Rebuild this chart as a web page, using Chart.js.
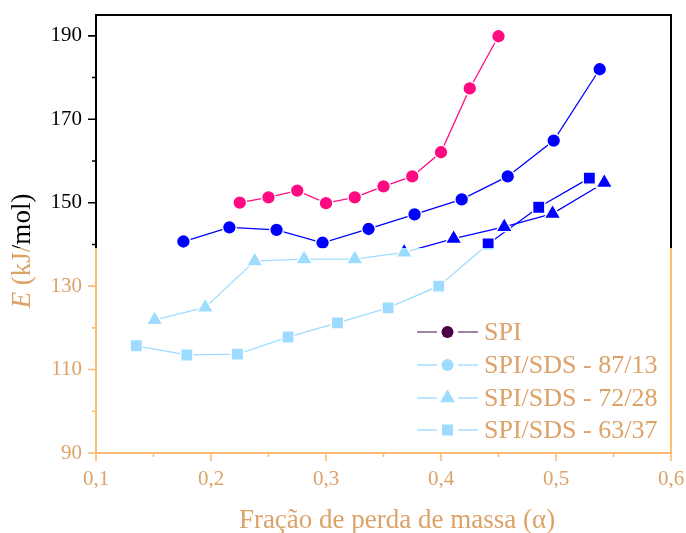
<!DOCTYPE html>
<html>
<head>
<meta charset="utf-8">
<script src="https://cdn.jsdelivr.net/npm/chart.js@4.4.0/dist/chart.umd.min.js"></script>
<style>
    html, body { margin: 0; padding: 0; background: #fff; }
    #wrap { width: 686px; height: 533px; position: relative; }
</style>
</head>
<body>
<div id="wrap"><canvas id="chart"></canvas></div>
<script>
// Séries (fração de perda de massa x energia de ativação)
const seriesNames = ['SPI', 'SPI/SDS - 87/13', 'SPI/SDS - 72/28', 'SPI/SDS - 63/37'];

const spiX = [0.225, 0.25, 0.275, 0.30, 0.325, 0.35, 0.375, 0.40, 0.425, 0.45];
const spiE = [150.0, 151.3, 152.9, 149.9, 151.3, 153.9, 156.3, 162.1, 177.4, 189.9];

const s87X = [0.176, 0.216, 0.257, 0.297, 0.337, 0.377, 0.418, 0.458, 0.498, 0.538];
const s87E = [140.7, 144.1, 143.5, 140.4, 143.7, 147.2, 150.8, 156.3, 164.9, 182.0];

const s72X = [0.151, 0.195, 0.238, 0.281, 0.325, 0.368, 0.411, 0.455, 0.497, 0.542];
const s72E = [121.9, 124.9, 136.0, 136.5, 136.5, 138.1, 141.4, 144.2, 147.4, 154.8];

const s63X = [0.135, 0.179, 0.223, 0.267, 0.310, 0.354, 0.398, 0.441, 0.485, 0.529];
const s63E = [115.7, 113.5, 113.7, 117.8, 121.2, 124.8, 130.0, 140.1, 148.9, 155.9];

// Eixos
const xMin = 0.1, xMax = 0.6;
const xTicks = [0.1, 0.15, 0.2, 0.25, 0.3, 0.35, 0.4, 0.45, 0.5, 0.55, 0.6];
const yMin = 90, yMax = 195;
const yTicks = [90, 100, 110, 120, 130, 140, 150, 160, 170, 180, 190];
const xTitle = 'Fração de perda de massa (α)';
const yTitleVar = 'E';
const yTitleUnit = ' (kJ/mol)';

// A imagem original muda de cor abaixo desta linha
const CUT_Y = 248;
const FONT = "'Liberation Serif', 'Times New Roman', serif";
const AX_ORANGE = '#ffbb72';
const TXT_ORANGE = '#dca268';

function split(chart, top, bottom) {
    const h = chart.height || 533;
    const g = chart.ctx.createLinearGradient(0, 0, 0, h);
    const s = CUT_Y / h;
    g.addColorStop(0, top);
    g.addColorStop(s, top);
    g.addColorStop(s, bottom);
    g.addColorStop(1, bottom);
    return g;
}

function toPoints(xs, ys) {
    return xs.map((x, i) => ({ x: x, y: ys[i] }));
}

function makeSet(i, xs, ys, style, radius, top, bottom) {
    return {
        label: seriesNames[i],
        data: toPoints(xs, ys),
        borderColor: c => split(c.chart, top, bottom),
        pointBackgroundColor: c => split(c.chart, top, bottom),
        pointBorderColor: '#ffffff',
        pointBorderWidth: 1.3,
        pointStyle: style,
        pointRadius: radius,
        borderWidth: 1.3,
        tension: 0,
        fill: false
    };
}

const LIGHT = '#9edcff';

const datasets = [
    makeSet(0, spiX, spiE, 'circle', 6.8, '#ff0a80', '#4b0048'),
    makeSet(1, s87X, s87E, 'circle', 6.8, '#0000ff', LIGHT),
    makeSet(2, s72X, s72E, 'triangle', 9.5, '#0000ff', LIGHT),
    makeSet(3, s63X, s63E, 'rect', 8.6, '#0000ff', LIGHT)
];

// legenda: cores da parte de baixo da figura
const legendLine = ['#86588a', '#a6e1ff', '#a6e1ff', '#a6e1ff'];
const legendFill = ['#4b0048', LIGHT, LIGHT, LIGHT];
const legendStyle = ['circle', 'circle', 'triangle', 'rect'];
const legendSize = [6, 6, 8.5, 7.8];

function isMajorX(v) {
    return Math.round(v * 100) % 10 === 0;
}

function twoTone(ctx, chart, topColor, bottomColor, draw) {
    ctx.save();
    ctx.beginPath();
    ctx.rect(0, 0, chart.width, CUT_Y);
    ctx.clip();
    draw(topColor);
    ctx.restore();
    ctx.save();
    ctx.beginPath();
    ctx.rect(0, CUT_Y, chart.width, chart.height - CUT_Y);
    ctx.clip();
    draw(bottomColor);
    ctx.restore();
}

function marker(ctx, style, x, y, r) {
    ctx.beginPath();
    if (style === 'circle') {
        ctx.arc(x, y, r, 0, Math.PI * 2);
    } else if (style === 'triangle') {
        ctx.moveTo(x, y - r);
        ctx.lineTo(x + r * 0.866, y + r / 2);
        ctx.lineTo(x - r * 0.866, y + r / 2);
        ctx.closePath();
    } else {
        const h = r * Math.SQRT1_2;
        ctx.rect(x - h, y - h, 2 * h, 2 * h);
    }
    ctx.fill();
}

const decor = {
    id: 'decor',
    afterDraw(chart) {
        const ctx = chart.ctx;
        const a = chart.chartArea;
        const xs = chart.scales.x;
        const ys = chart.scales.y;

        // moldura e marcas dos eixos
        twoTone(ctx, chart, '#000000', AX_ORANGE, color => {
            ctx.strokeStyle = color;
            ctx.lineWidth = 2;
            ctx.strokeRect(a.left, a.top, a.right - a.left, a.bottom - a.top);
            ctx.lineWidth = 1.6;
            ctx.beginPath();
            ys.ticks.forEach(t => {
                const len = t.value % 20 === 10 ? 8 : 4;
                const py = ys.getPixelForValue(t.value);
                ctx.moveTo(a.left, py);
                ctx.lineTo(a.left - len, py);
            });
            xs.ticks.forEach(t => {
                const len = isMajorX(t.value) ? 8 : 4;
                const px = xs.getPixelForValue(t.value);
                ctx.moveTo(px, a.bottom);
                ctx.lineTo(px, a.bottom + len);
            });
            ctx.stroke();
        });

        // título do eixo y
        twoTone(ctx, chart, '#000000', TXT_ORANGE, color => {
            ctx.save();
            ctx.translate(23, 251);
            ctx.rotate(-Math.PI / 2);
            ctx.fillStyle = color;
            ctx.textBaseline = 'middle';
            ctx.font = 'italic 27px ' + FONT;
            const wE = ctx.measureText(yTitleVar).width;
            ctx.font = '27px ' + FONT;
            const wU = ctx.measureText(yTitleUnit).width;
            const start = -(wE + wU) / 2;
            ctx.textAlign = 'left';
            ctx.font = 'italic 27px ' + FONT;
            ctx.fillText(yTitleVar, start, 0);
            ctx.font = '27px ' + FONT;
            ctx.fillText(yTitleUnit, start + wE, 0);
            ctx.restore();
        });

        // título do eixo x
        ctx.save();
        ctx.fillStyle = TXT_ORANGE;
        ctx.font = '27px ' + FONT;
        ctx.textAlign = 'center';
        ctx.textBaseline = 'alphabetic';
        ctx.fillText(xTitle, 397, 528);
        ctx.restore();

        // legenda
        ctx.save();
        const rows = [332, 365, 398, 430];
        seriesNames.forEach((name, i) => {
            const y = rows[i];
            ctx.strokeStyle = legendLine[i];
            ctx.lineWidth = 1.3;
            ctx.beginPath();
            ctx.moveTo(417, y);
            ctx.lineTo(437, y);
            ctx.moveTo(458, y);
            ctx.lineTo(478, y);
            ctx.stroke();
            ctx.fillStyle = legendFill[i];
            marker(ctx, legendStyle[i], 447.5, y, legendSize[i]);
            ctx.fillStyle = TXT_ORANGE;
            ctx.font = '26px ' + FONT;
            ctx.textAlign = 'left';
            ctx.textBaseline = 'middle';
            ctx.fillText(name, 484, y + 1);
        });
        ctx.restore();
    }
};

const chart = new Chart(document.getElementById('chart'), {
    type: 'line',
    data: { datasets: datasets },
    options: {
        responsive: true,
        maintainAspectRatio: false,
        animation: false,
        layout: { padding: { left: 0, right: 15, top: 15, bottom: 0 } },
        plugins: {
            legend: { display: false },
            tooltip: { enabled: false }
        },
        scales: {
            x: {
                type: 'linear',
                min: xMin,
                max: xMax,
                afterBuildTicks: s => { s.ticks = xTicks.map(v => ({ value: v })); },
                afterFit: s => {
                    s.height = 80;
                    s.paddingLeft = 0;
                    s.paddingRight = 0;
                },
                grid: { display: false, drawTicks: false },
                border: { display: false },
                ticks: {
                    autoSkip: false,
                    maxRotation: 0,
                    padding: 14,
                    color: TXT_ORANGE,
                    font: { family: FONT, size: 21 },
                    callback: v => isMajorX(v) ? v.toFixed(1).replace('.', ',') : ''
                }
            },
            y: {
                type: 'linear',
                min: yMin,
                max: yMax,
                afterBuildTicks: s => { s.ticks = yTicks.map(v => ({ value: v })); },
                afterFit: s => {
                    s.width = 96;
                    s.paddingTop = 0;
                    s.paddingBottom = 0;
                },
                grid: { display: false, drawTicks: false },
                border: { display: false },
                ticks: {
                    autoSkip: false,
                    padding: 14,
                    color: c => c.tick && c.tick.value > 140 ? '#000000' : TXT_ORANGE,
                    font: { family: FONT, size: 21 },
                    callback: v => (v % 20 === 10 ? String(v) : '')
                }
            }
        }
    },
    plugins: [decor]
});
</script>
</body>
</html>
